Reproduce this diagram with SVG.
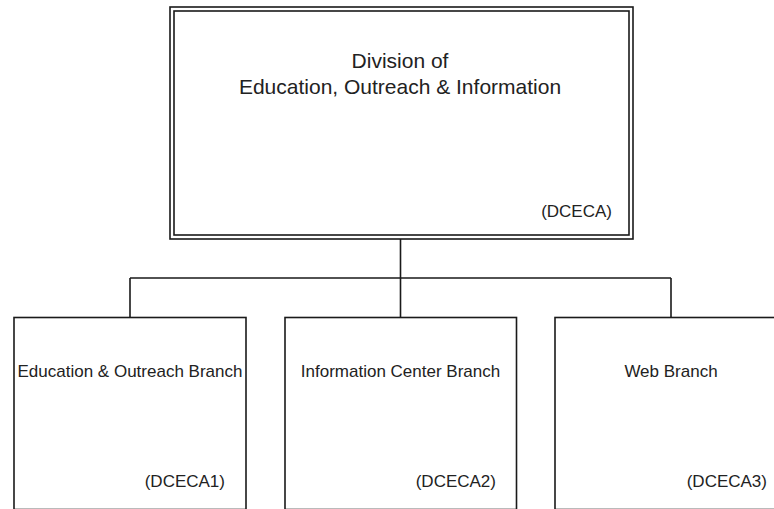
<svg xmlns="http://www.w3.org/2000/svg" width="774" height="509" viewBox="0 0 774 509">
<style>
.box{fill:#fff;stroke:#1a1a1a;stroke-width:1.6}
.ln{fill:none;stroke:#1a1a1a;stroke-width:1.6}
text{font-family:"Liberation Sans",Arial,sans-serif;fill:#222}
.t{font-size:21px;text-anchor:middle}
.s{font-size:17px}
.m{text-anchor:middle}
.e{text-anchor:end}
</style>
<rect width="774" height="509" fill="#fff"/>
<g id="connectors">
<path class="ln" d="M400.5 239V317.5M130 278H671M130 278V317.5M671 278V317.5"/>
</g>
<g id="dceca">
<rect class="box" x="170" y="7" width="463" height="232"/>
<rect class="ln" x="174" y="11" width="455" height="224"/>
<text class="t" x="400" y="68">Division of</text>
<text class="t" x="400" y="94">Education, Outreach &amp; Information</text>
<text class="s e" x="612" y="217">(DCECA)</text>
</g>
<g id="dceca1">
<rect class="box" x="14" y="317.5" width="232" height="192"/>
<text class="s m" x="130" y="377">Education &amp; Outreach Branch</text>
<text class="s e" x="225" y="487">(DCECA1)</text>
</g>
<g id="dceca2">
<rect class="box" x="285" y="317.5" width="231.5" height="192"/>
<text class="s m" x="400.5" y="377">Information Center Branch</text>
<text class="s e" x="496" y="487">(DCECA2)</text>
</g>
<g id="dceca3">
<rect class="box" x="555" y="317.5" width="232" height="192"/>
<text class="s m" x="671" y="377">Web Branch</text>
<text class="s e" x="767" y="487">(DCECA3)</text>
</g>
</svg>
